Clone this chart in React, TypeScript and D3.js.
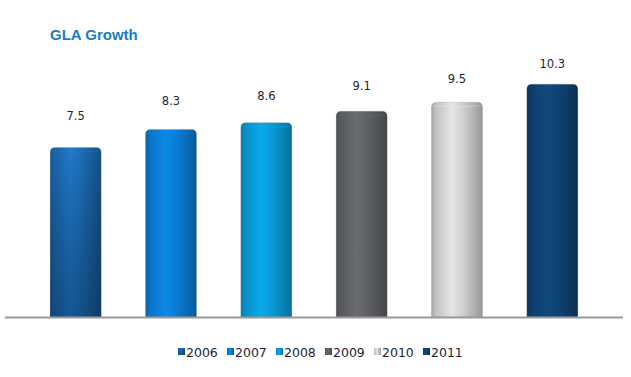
import React from "react";
import * as d3 from "d3";

const years = ["2006", "2007", "2008", "2009", "2010", "2011"];
const values = [7.5, 8.3, 8.6, 9.1, 9.5, 10.3];
const barColors = ["#1c6db6", "#0b7bd2", "#0899d4", "#5e6064", "#cfcfcf", "#0e4272"];
const bottomShade = [0.35, 0, 0, 0, 0, 0];

const W = 631;
const H = 377;

export default function App() {
  const x = d3
    .scaleBand<string>()
    .domain(years)
    .range([28, 600])
    .paddingInner(0.465)
    .paddingOuter(0.2325);
  const y = d3.scaleLinear().domain([0, 12]).range([317, 45.8]);
  const labelY = d3.scaleLinear().domain([0, 10.3]).range([261, 68]);
  const bw = x.bandwidth();
  const r = 5;

  const stops = (c: string) => {
    const col = d3.color(c)!;
    return [
      { o: "0%", c: col.darker(0.6).formatHex() },
      { o: "8%", c: col.darker(0.2).formatHex() },
      { o: "40%", c: col.brighter(0.3).formatHex() },
      { o: "62%", c: col.formatHex() },
      { o: "88%", c: col.darker(0.55).formatHex() },
      { o: "100%", c: col.darker(0.9).formatHex() },
    ];
  };

  const barPath = (x0: number, y0: number, w: number, h: number) => {
    const p = d3.path();
    p.moveTo(x0, y0 + h);
    p.lineTo(x0, y0 + r);
    p.quadraticCurveTo(x0, y0, x0 + r, y0);
    p.lineTo(x0 + w - r, y0);
    p.quadraticCurveTo(x0 + w, y0, x0 + w, y0 + r);
    p.lineTo(x0 + w, y0 + h);
    p.closePath();
    return p.toString();
  };

  const legendStart = 178;
  const legendStep = 49;

  return (
    <svg
      width={W}
      height={H}
      style={{ position: "fixed", left: 0, top: 0, background: "#fff" }}
    >
      <defs>
        {years.map((yr, i) => (
          <linearGradient key={yr} id={`hg${i}`} x1="0" x2="1" y1="0" y2="0">
            {stops(barColors[i]).map((s) => (
              <stop key={s.o} offset={s.o} stopColor={s.c} />
            ))}
          </linearGradient>
        ))}
        {years.map((yr, i) => (
          <linearGradient key={yr} id={`vg${i}`} x1="0" x2="0" y1="0" y2="1">
            <stop offset="0%" stopColor="#000" stopOpacity={0} />
            <stop offset="100%" stopColor="#001830" stopOpacity={bottomShade[i]} />
          </linearGradient>
        ))}
      </defs>

      <text
        x={50}
        y={40}
        fontFamily="'Liberation Sans', Arial, sans-serif"
        fontWeight="bold"
        fontSize={15}
        fill="#1a7cc2"
      >
        GLA Growth
      </text>

      {years.map((yr, i) => {
        const x0 = x(yr)!;
        const y0 = y(values[i]);
        const h = y(0) - y0;
        const col = d3.color(barColors[i])!;
        return (
          <g key={yr}>
            <path d={barPath(x0, y0, bw, h)} fill={`url(#hg${i})`} stroke="#7a8088" strokeOpacity={0.3} strokeWidth={0.8} />
            <path d={barPath(x0, y0, bw, h)} fill={`url(#vg${i})`} />
            <path
              d={`M${x0 + 2},${y0 + 3.5} Q${x0 + bw / 2},${y0 + 6} ${x0 + bw - 2},${y0 + 3.5}`}
              fill="none"
              stroke={col.brighter(0.4).formatHex()}
              strokeOpacity={0.35}
              strokeWidth={1}
            />
            <text
              x={x0 + bw / 2}
              y={labelY(values[i])}
              textAnchor="middle"
              fontFamily="'DejaVu Sans', Verdana, sans-serif"
              fontSize={11.5}
              fill="#1e1e30"
            >
              {values[i].toFixed(1)}
            </text>
          </g>
        );
      })}

      <line x1={5} x2={623} y1={y(0) + 0.5} y2={y(0) + 0.5} stroke="#9a9a9a" strokeWidth={2} />

      {years.map((yr, i) => {
        const lx = legendStart + i * legendStep;
        return (
          <g key={yr}>
            <rect x={lx} y={348} width={7} height={7} fill={`url(#hg${i})`} />
            <rect x={lx} y={348} width={7} height={7} fill={`url(#vg${i})`} />
            <text
              x={lx + 8}
              y={356.5}
              fontFamily="'DejaVu Sans', Verdana, sans-serif"
              fontSize={12.5}
              fill="#1e1e30"
            >
              {yr}
            </text>
          </g>
        );
      })}
    </svg>
  );
}
